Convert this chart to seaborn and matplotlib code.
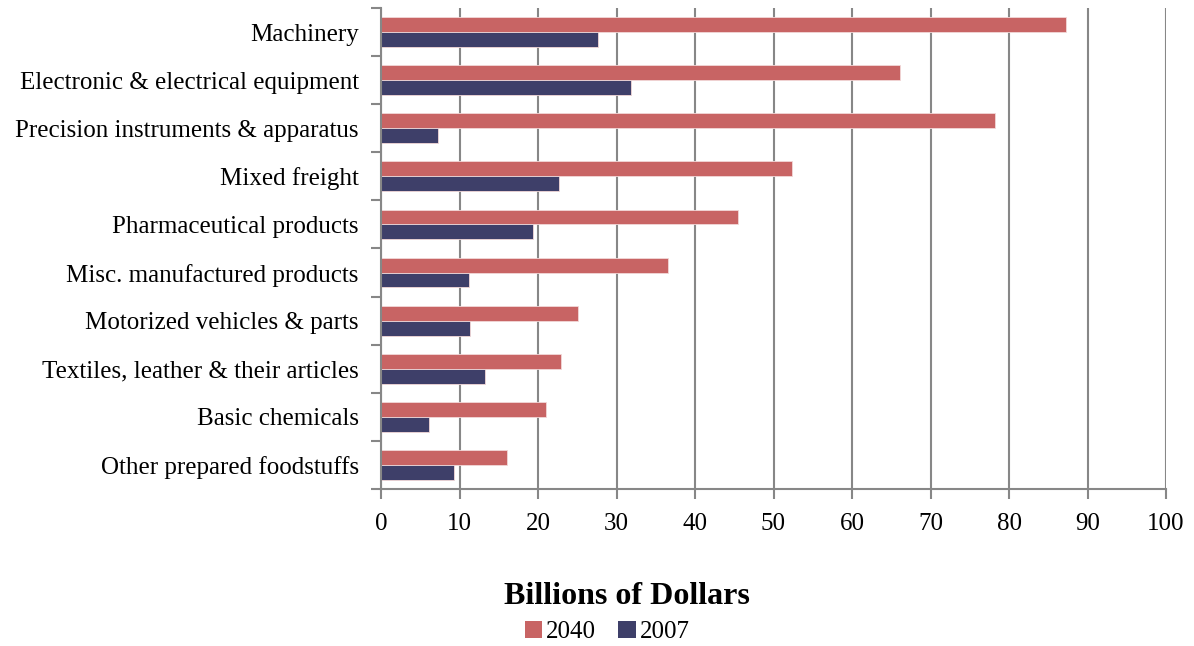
import matplotlib
matplotlib.use("Agg")
import matplotlib.pyplot as plt
import seaborn as sns
import pandas as pd
from matplotlib.patches import Patch

categories = [
    "Machinery",
    "Electronic & electrical equipment",
    "Precision instruments & apparatus",
    "Mixed freight",
    "Pharmaceutical products",
    "Misc. manufactured products",
    "Motorized vehicles & parts",
    "Textiles, leather & their articles",
    "Basic chemicals",
    "Other prepared foodstuffs",
]
values_2040 = [87.3, 66.1, 78.2, 52.3, 45.5, 36.5, 25.1, 22.9, 21.0, 16.0]
values_2007 = [27.6, 31.9, 7.2, 22.7, 19.3, 11.2, 11.4, 13.2, 6.1, 9.3]
series_names = ["2040", "2007"]
x_ticks = [0, 10, 20, 30, 40, 50, 60, 70, 80, 90, 100]
colors = {"2040": "#C86464", "2007": "#3E3F69"}

df = pd.DataFrame({
    "Category": categories * 2,
    "Value": values_2040 + values_2007,
    "Year": [series_names[0]] * len(categories) + [series_names[1]] * len(categories),
})

sns.set_style("white")
plt.rcParams["font.family"] = ["Liberation Serif", "DejaVu Serif"]
plt.rcParams["text.color"] = "black"
plt.rcParams["xtick.color"] = "black"
plt.rcParams["ytick.color"] = "black"

fig = plt.figure(figsize=(11.94, 6.46), dpi=100)
ax = fig.add_axes([381 / 1194, 1 - 489 / 646, (1166 - 381) / 1194, (489 - 8) / 646])

sns.barplot(data=df, y="Category", x="Value", hue="Year", hue_order=series_names,
            order=categories, palette=colors, orient="h", width=0.62, saturation=1,
            edgecolor="#F2D8D8", linewidth=0.6, ax=ax, legend=False, errorbar=None)

ax.set_xlim(0, 100)
ax.set_ylim(len(categories) - 0.5, -0.5)
ax.set_xticks(x_ticks)
ax.set_xticklabels([str(t) for t in x_ticks], fontsize=18, color="black")
ax.set_xlabel("")
ax.set_ylabel("")

# y ticks at category boundaries, labels at centers
ax.set_yticks([i for i in range(len(categories))])
ax.set_yticklabels(categories, fontsize=18, color="black")
ax.tick_params(axis="y", which="major", left=True, length=0, pad=16)
ax.set_yticks([i - 0.5 for i in range(len(categories) + 1)], minor=True)
ax.tick_params(axis="y", which="minor", left=True, length=7, width=1.5, color="#878787", direction="out")
ax.tick_params(axis="x", which="major", bottom=True, length=7, width=1.5, color="#878787",
               labelcolor="black", direction="out", pad=10)

ax.grid(axis="x", color="#878787", linewidth=1.5)
ax.grid(axis="y", visible=False)
ax.set_axisbelow(True)

for side in ["top", "right"]:
    ax.spines[side].set_visible(False)
for side in ["left", "bottom"]:
    ax.spines[side].set_color("#878787")
    ax.spines[side].set_linewidth(1.5)

fig.text(627 / 1194, 1 - 596 / 646, "Billions of Dollars", ha="center", va="center",
         fontsize=23, fontweight="bold", color="black")

handles = [Patch(facecolor=colors[s], edgecolor="none", label=s) for s in series_names]
leg = fig.legend(handles=handles, loc="center", bbox_to_anchor=(607 / 1194, 1 - 632 / 646),
                 ncol=2, frameon=False, fontsize=18, handlelength=0.7, handleheight=0.7,
                 handletextpad=0.15, columnspacing=0.9, borderaxespad=0)
for t in leg.get_texts():
    t.set_color("black")

fig.savefig("out.png", dpi=100)
